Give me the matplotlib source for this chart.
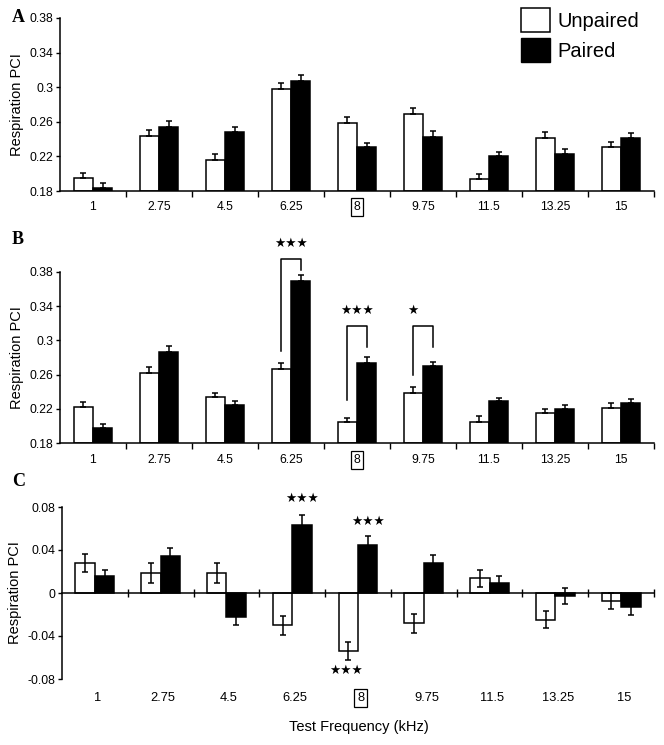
import matplotlib
matplotlib.use("Agg")
import matplotlib.pyplot as plt
from matplotlib.patches import Patch
import numpy as np

plt.rcParams['font.family'] = ['Liberation Sans', 'DejaVu Sans']

# ---- data ----
freqs = ["1", "2.75", "4.5", "6.25", "8", "9.75", "11.5", "13.25", "15"]

a_unpaired = [0.195, 0.244, 0.216, 0.298, 0.259, 0.269, 0.194, 0.241, 0.231]
a_unpaired_err = [0.006, 0.007, 0.007, 0.007, 0.007, 0.007, 0.006, 0.007, 0.006]
a_paired = [0.184, 0.254, 0.248, 0.307, 0.231, 0.243, 0.221, 0.223, 0.241]
a_paired_err = [0.005, 0.007, 0.006, 0.007, 0.005, 0.006, 0.004, 0.005, 0.006]

b_unpaired = [0.222, 0.262, 0.234, 0.267, 0.204, 0.239, 0.205, 0.215, 0.221]
b_unpaired_err = [0.006, 0.007, 0.005, 0.007, 0.005, 0.007, 0.006, 0.005, 0.006]
b_paired = [0.198, 0.287, 0.224, 0.370, 0.274, 0.270, 0.229, 0.220, 0.227]
b_paired_err = [0.004, 0.007, 0.005, 0.007, 0.006, 0.005, 0.004, 0.005, 0.005]

c_unpaired = [0.028, 0.0185, 0.0185, -0.030, -0.054, -0.028, 0.0136, -0.025, -0.0077]
c_unpaired_err = [0.0085, 0.0096, 0.009, 0.009, 0.0085, 0.0088, 0.0079, 0.0079, 0.0076]
c_paired = [0.0154, 0.034, -0.022, 0.063, 0.045, 0.028, 0.0093, -0.0028, -0.0133]
c_paired_err = [0.006, 0.0077, 0.0077, 0.0099, 0.0077, 0.0077, 0.0065, 0.0073, 0.0074]

ab_ticks = [0.18, 0.22, 0.26, 0.3, 0.34, 0.38]
ab_ticklabels = ["0.18", "0.22", "0.26", "0.3", "0.34", "0.38"]
c_ticks = [-0.08, -0.04, 0, 0.04, 0.08]
c_ticklabels = ["-0.08", "-0.04", "0", "0.04", "0.08"]

x = np.arange(len(freqs))
w = 0.295

fig = plt.figure(figsize=(6.64, 7.45), dpi=100)
W, H = 664, 745


def add_ax(top, bottom, left=60, right=654):
    return fig.add_axes([left / W, 1 - bottom / H, (right - left) / W, (bottom - top) / H])


def draw(ax, unp, unp_err, pai, pai_err, ylim, yticks, yticklabels, both=False):
    if both:
        ue, pe = unp_err, pai_err
        bottom = 0
    else:
        ue = [np.zeros(len(unp)), unp_err]
        pe = [np.zeros(len(pai)), pai_err]
        bottom = ylim[0]
    h_u = np.array(unp) - bottom
    h_p = np.array(pai) - bottom
    ax.bar(x - w / 2, h_u, w, bottom=bottom, color="white", edgecolor="black", linewidth=1.1, zorder=2)
    ax.bar(x + w / 2, h_p, w, bottom=bottom, color="black", edgecolor="black", linewidth=1.1, zorder=2)
    ax.errorbar(x - w / 2, unp, yerr=ue, fmt="none", ecolor="black", elinewidth=1.1, capsize=2.5, capthick=1.1, zorder=3)
    ax.errorbar(x + w / 2, pai, yerr=pe, fmt="none", ecolor="black", elinewidth=1.1, capsize=2.5, capthick=1.1, zorder=1)
    ax.set_xlim(-0.5, 8.5)
    ax.set_ylim(*ylim)
    ax.set_yticks(yticks)
    ax.set_yticklabels(yticklabels, fontsize=8.8)
    ax.spines["top"].set_visible(False)
    ax.spines["right"].set_visible(False)
    ax.spines["left"].set_linewidth(1.1)
    ax.spines["bottom"].set_linewidth(1.1)
    ax.tick_params(axis="y", length=3, width=1, pad=1.5)
    ax.set_xticks(np.arange(0.5, 9.0, 1.0))
    ax.set_xticklabels([])
    ax.set_ylabel("Respiration PCI", fontsize=10.5, labelpad=4)


def cat_labels(ax, offset_px, size=8.8, shift=0.0):
    y = -offset_px / ax.bbox.height * (fig.dpi / 100)
    for i, f in enumerate(freqs):
        kw = {}
        if f == "8":
            kw["bbox"] = dict(boxstyle="square,pad=0.25", facecolor="white", edgecolor="black", linewidth=0.9)
        ax.text(i + shift, y, f, transform=ax.get_xaxis_transform(), ha="center", va="center", fontsize=size, **kw)


def stars(ax, xpos, ypos, s):
    ax.text(xpos, ypos, s, ha="center", va="center", fontsize=9, family="DejaVu Sans", clip_on=False)


def bracket(ax, x0, x1, y_top, y0, y1):
    ax.plot([x0, x0, x1, x1], [y0, y_top, y_top, y1], color="black", linewidth=1.1, clip_on=False, zorder=4)


# ---- panel A ----
axA = add_ax(18, 191)
draw(axA, a_unpaired, a_unpaired_err, a_paired, a_paired_err, (0.18, 0.38), ab_ticks, ab_ticklabels)
axA.tick_params(axis="x", length=4, width=1, direction="out")
cat_labels(axA, 16)

# ---- panel B ----
axB = add_ax(272, 443)
draw(axB, b_unpaired, b_unpaired_err, b_paired, b_paired_err, (0.18, 0.38), ab_ticks, ab_ticklabels)
axB.tick_params(axis="x", length=4, width=1, direction="out")
cat_labels(axB, 17)
bracket(axB, 3 - w / 2, 3 + w / 2, 0.395, 0.288, 0.382)
stars(axB, 3, 0.413, "\u2605\u2605\u2605")
bracket(axB, 4 - w / 2, 4 + w / 2, 0.317, 0.2305, 0.292)
stars(axB, 4, 0.335, "\u2605\u2605\u2605")
bracket(axB, 5 - w / 2, 5 + w / 2, 0.317, 0.2596, 0.292)
stars(axB, 5 - w / 2, 0.335, "\u2605")

# ---- panel C ----
axC = add_ax(507, 679, left=62, right=654)
draw(axC, c_unpaired, c_unpaired_err, c_paired, c_paired_err, (-0.08, 0.08), c_ticks, c_ticklabels, both=True)
axC.spines["bottom"].set_position(("data", 0))
axC.tick_params(axis="x", length=6, width=1, direction="inout")
cat_labels(axC, 19, size=9.3, shift=0.04)
stars(axC, 3 + w / 2, 0.088, "\u2605\u2605\u2605")
stars(axC, 4 + w / 2, 0.067, "\u2605\u2605\u2605")
stars(axC, 4 - w / 2 - 0.03, -0.072, "\u2605\u2605\u2605")
fig.text(359 / W, 1 - 727 / H, "Test Frequency (kHz)", ha="center", va="center", fontsize=10.5)

# ---- panel letters ----
for lbl, yy in [("A", 18), ("B", 240), ("C", 482)]:
    fig.text(12 / W, 1 - yy / H, lbl, ha="left", va="center", fontsize=13, fontweight="bold",
             family="Liberation Serif")

# ---- legend ----
handles = [Patch(facecolor="white", edgecolor="black", linewidth=1.1, label="Unpaired"),
           Patch(facecolor="black", edgecolor="black", label="Paired")]
fig.legend(handles=handles, loc="upper left", bbox_to_anchor=(521 / W, 1 - 8 / H), frameon=False,
           fontsize=14.5, handlelength=1.45, handleheight=1.45, handletextpad=0.35,
           labelspacing=0.3, borderpad=0, borderaxespad=0)

fig.savefig("out.png", dpi=100)
